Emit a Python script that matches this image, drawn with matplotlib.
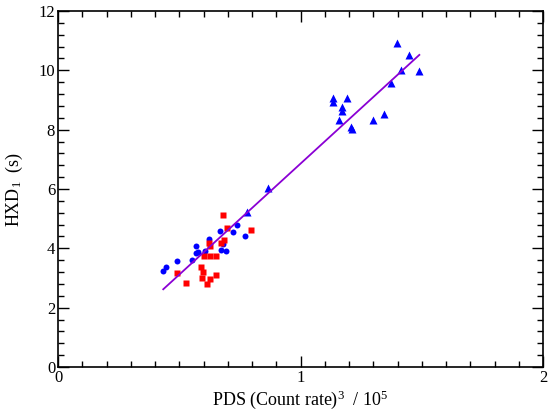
import matplotlib
matplotlib.use("Agg")
import matplotlib.pyplot as plt
from matplotlib.ticker import MultipleLocator

plt.rcParams['font.family'] = ['Liberation Serif', 'DejaVu Serif']
plt.rcParams['mathtext.fontset'] = 'custom'
plt.rcParams['mathtext.rm'] = 'Liberation Serif'
plt.rcParams['mathtext.it'] = 'Liberation Serif:italic'

# Blue circles
circ_x = [0.434, 0.445, 0.489, 0.551, 0.568, 0.568, 0.579, 0.606, 0.624, 0.667,
          0.671, 0.679, 0.692, 0.723, 0.739, 0.770]
circ_y = [3.24, 3.38, 3.58, 3.60, 4.07, 3.84, 3.88, 3.92, 4.31, 4.58,
          3.94, 4.15, 3.90, 4.54, 4.79, 4.41]

# Blue triangles
tri_x = [0.781, 0.865, 1.135, 1.135, 1.193, 1.171, 1.171, 1.158, 1.207, 1.214,
         1.298, 1.344, 1.374, 1.416, 1.399, 1.449, 1.490]
tri_y = [5.23, 6.02, 9.08, 8.93, 9.08, 8.75, 8.62, 8.33, 8.08, 8.02,
         8.33, 8.53, 9.58, 10.01, 10.91, 10.52, 9.97]

# Red squares
sq_x = [0.489, 0.529, 0.590, 0.599, 0.595, 0.614, 0.628, 0.652, 0.603, 0.628,
        0.652, 0.623, 0.628, 0.672, 0.685, 0.682, 0.697, 0.797]
sq_y = [3.18, 2.84, 3.36, 3.20, 3.00, 2.80, 2.96, 3.09, 3.74, 3.74,
        3.74, 4.17, 4.09, 4.19, 4.28, 5.13, 4.67, 4.61]

# Fit line endpoints
fit_x = [0.434, 1.490]
fit_y = [2.62, 10.52]

fig = plt.figure(figsize=(5.6, 4.15), dpi=100)
ax = fig.add_axes([58/560, 48/415, (543-58)/560, (367-11)/415])

ax.plot(fit_x, fit_y, color='#8a00d4', lw=1.3, zorder=3)
ax.plot(circ_x, circ_y, 'o', color='#0000ff', ms=4.3, mec='none', zorder=2)
ax.plot(tri_x, tri_y, '^', color='#0000ff', ms=5.2, mec='none', zorder=2)
ax.plot(sq_x, sq_y, 's', color='#ff0000', ms=4.2, mec='none', zorder=2)

ax.set_xlim(0, 2)
ax.set_ylim(0, 12)
ax.xaxis.set_major_locator(MultipleLocator(1))
ax.xaxis.set_minor_locator(MultipleLocator(0.1))
ax.yaxis.set_major_locator(MultipleLocator(2))
ax.yaxis.set_minor_locator(MultipleLocator(0.4))
ax.tick_params(which='both', direction='in', top=True, right=True,
               labelsize=12, pad=2, width=1)
ax.tick_params(which='major', length=8)
ax.tick_params(which='minor', length=4)
for s in ax.spines.values():
    s.set_linewidth(1.2)

ax.set_xlabel(r'PDS (Count rate)$^{3}$  / 10$^{5}$', fontsize=13, labelpad=2)
ax.set_ylabel(r'HXD$_{1}$  (s)', fontsize=13, labelpad=10)

fig.savefig('out.png', dpi=100)
